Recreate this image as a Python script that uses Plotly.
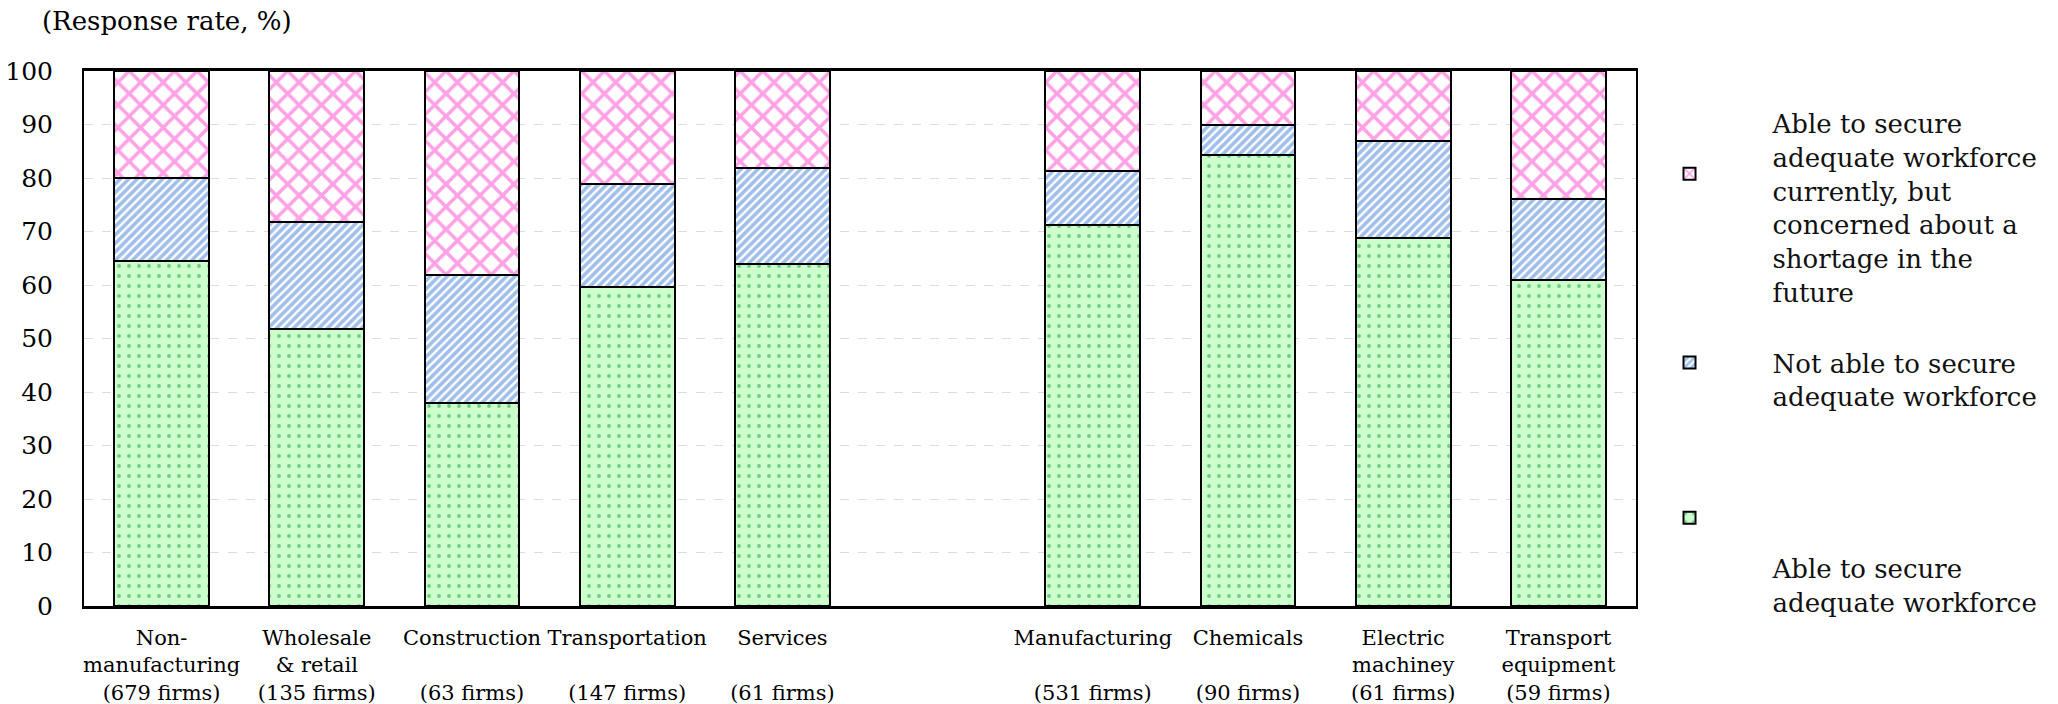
import plotly.graph_objects as go

# Industry groups (a blank spacer separates non-manufacturing and manufacturing)
categories = [
    "Non-<br>manufacturing<br>(679 firms)",
    "Wholesale<br>& retail<br>(135 firms)",
    "Construction<br> <br>(63 firms)",
    "Transportation<br> <br>(147 firms)",
    "Services<br> <br>(61 firms)",
    "Manufacturing<br> <br>(531 firms)",
    "Chemicals<br> <br>(90 firms)",
    "Electric<br>machiney<br>(61 firms)",
    "Transport<br>equipment<br>(59 firms)",
]
spacer = " "
axis_order = categories[:5] + [spacer] + categories[5:]

# Response rates (%)
able_now = [64.5, 51.7, 38.0, 59.7, 63.9, 71.3, 84.3, 68.7, 60.9]
not_able = [15.5, 20.1, 23.8, 19.2, 17.9, 10.0, 5.7, 18.2, 15.2]
concerned = [20.0, 28.2, 38.2, 21.1, 18.2, 18.7, 10.0, 13.1, 23.9]

# Legend labels; leading blank lines set where each swatch sits beside its text
names = [
    " <br> <br>Able to secure<br>adequate workforce<br>currently, but<br>concerned about a<br>shortage in the<br>future",
    " <br>Not able to secure<br>adequate workforce",
    " <br> <br> <br> <br>Able to secure<br>adequate workforce",
]

SERIF = "DejaVu Serif"

fig = go.Figure()
outline = dict(color="black", width=2)

fig.add_trace(go.Bar(
    x=categories, y=able_now, name=names[2], width=0.61,
    marker=dict(color="#ccffcc", line=outline,
                pattern=dict(shape=".", bgcolor="#ccffcc", fgcolor="#0f9e40",
                             size=10, solidity=0.12)),
    legendgroup="c",
))
fig.add_trace(go.Bar(
    x=categories, y=not_able, name=names[1], width=0.61,
    marker=dict(color="white", line=outline,
                pattern=dict(shape="/", bgcolor="white", fgcolor="#3f7fd6",
                             size=6, solidity=0.6)),
    legendgroup="b",
))
fig.add_trace(go.Bar(
    x=categories, y=concerned, name=names[0], width=0.61,
    marker=dict(color="white", line=outline,
                pattern=dict(shape="x", bgcolor="white", fgcolor="#ff44cc",
                             size=16, solidity=0.4)),
    legendgroup="a",
))

fig.update_layout(
    barmode="stack",
    width=2058, height=704,
    margin=dict(l=84, r=422, t=71, b=98),
    paper_bgcolor="white", plot_bgcolor="white",
    font=dict(family=SERIF, color="black"),
    title=dict(
        text="(Response rate, %)", xref="container", yref="container",
        x=0.0204, xanchor="left", y=0.970, yanchor="middle",
        font=dict(family=SERIF, size=26, color="black"),
    ),
    legend=dict(
        x=0.981, xanchor="left", y=1.073, yanchor="top",
        traceorder="reversed", tracegroupgap=4,
        itemwidth=156, valign="middle", maxheight=700,
        font=dict(family=SERIF, size=26, color="#111"),
        bgcolor="rgba(0,0,0,0)",
    ),
    xaxis=dict(
        type="category", categoryorder="array", categoryarray=axis_order,
        showgrid=False, showline=True, linecolor="black", linewidth=2.5,
        mirror=True, ticks="", ticklabelstandoff=11, automargin=False,
        tickfont=dict(family=SERIF, size=21, color="black"),
        tickangle=0,
    ),
    yaxis=dict(
        range=[0, 100], tickvals=list(range(0, 101, 10)),
        showgrid=True, gridcolor="#dcdcdc", griddash="dash", gridwidth=1,
        showline=True, linecolor="black", linewidth=2, mirror=True,
        ticks="", ticklabelstandoff=24, zeroline=False, automargin=False,
        tickfont=dict(family=SERIF, size=25, color="black"),
    ),
)

fig.write_html("out.html")
